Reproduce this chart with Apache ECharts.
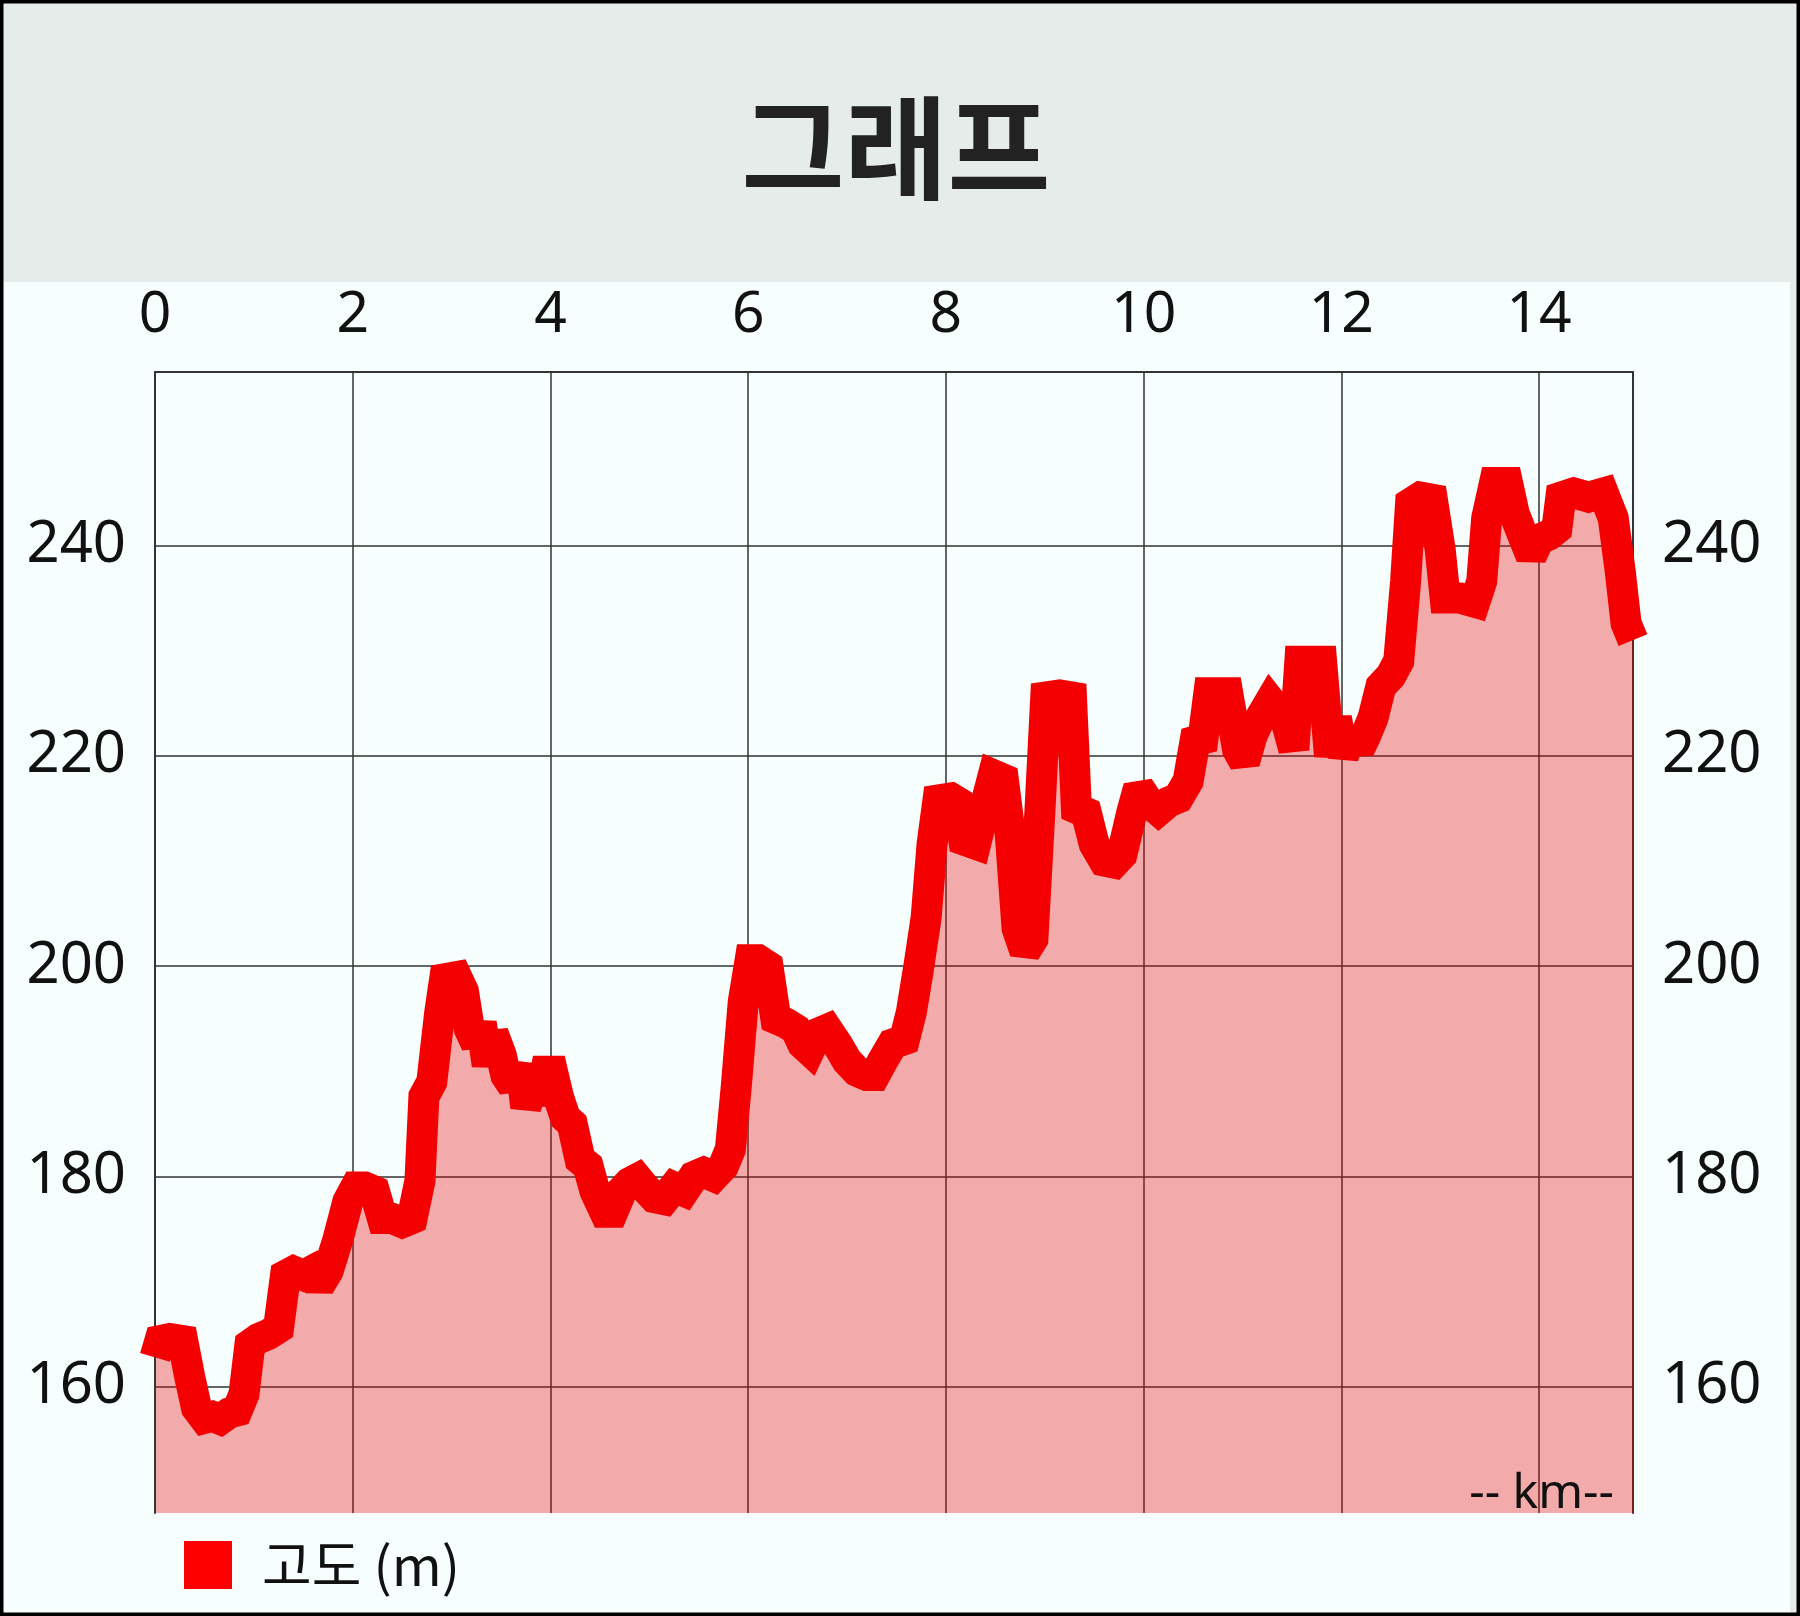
<!DOCTYPE html>
<html>
<head>
<meta charset="utf-8">
<script src="https://cdn.jsdelivr.net/npm/echarts@6/dist/echarts.min.js"></script>
<style>
html,body{margin:0;padding:0;background:#f6fefe;}
#chart{width:1800px;height:1616px;}
</style>
</head>
<body>
<div id="chart"></div>
<script>
// distance along route (km)
const distKm = [
  0.00,0.05,0.15,0.28,0.35,0.42,0.50,0.58,0.66,0.75,0.83,0.90,0.96,1.05,1.15,1.25,
  1.32,1.40,1.50,1.58,1.66,1.75,1.85,1.95,2.03,2.12,2.22,2.30,2.40,2.50,2.60,2.68,
  2.72,2.80,2.88,2.93,3.05,3.12,3.18,3.25,3.30,3.36,3.42,3.50,3.55,3.62,3.70,3.75,
  3.82,3.88,3.95,4.02,4.08,4.15,4.22,4.30,4.38,4.45,4.55,4.63,4.72,4.80,4.88,4.95,
  5.05,5.15,5.25,5.35,5.45,5.55,5.65,5.75,5.82,5.88,5.95,6.02,6.10,6.20,6.28,6.38,
  6.48,6.55,6.62,6.70,6.80,6.90,7.00,7.10,7.20,7.28,7.36,7.46,7.58,7.65,7.72,7.80,
  7.86,7.92,8.05,8.12,8.18,8.30,8.38,8.48,8.58,8.65,8.72,8.80,8.88,8.95,9.01,9.15,
  9.27,9.32,9.42,9.50,9.60,9.70,9.78,9.88,9.95,10.05,10.15,10.25,10.35,10.45,10.52,10.60,
  10.66,10.85,10.95,11.02,11.10,11.18,11.28,11.38,11.45,11.52,11.58,11.80,11.88,11.95,12.02,12.10,
  12.18,12.25,12.32,12.40,12.50,12.58,12.65,12.70,12.80,12.92,13.00,13.05,13.20,13.35,13.42,13.47,
  13.55,13.68,13.75,13.85,13.92,14.00,14.10,14.18,14.22,14.35,14.50,14.65,14.75,14.82,14.88,14.95
];
// elevation (m)
const elevation = [
  162.8,164.4,164.6,164.4,161.0,158.0,157.0,157.2,156.9,157.5,157.7,159.3,164.0,164.6,165.0,165.6,
  170.6,171.0,170.6,171.0,169.6,171.0,174.0,177.6,179.0,179.0,178.6,176.0,176.0,175.6,176.0,179.6,
  187.6,189.0,195.6,198.8,199.0,197.6,194.0,192.6,194.6,190.6,193.6,191.6,189.6,188.6,190.6,186.6,
  188.6,187.0,190.0,190.0,187.6,185.6,185.0,181.6,181.0,178.6,176.6,176.6,178.6,179.4,179.8,179.0,
  178.0,177.8,179.0,178.6,180.0,180.4,180.0,181.0,182.6,188.6,196.6,200.6,200.6,200.0,195.0,194.6,
  194.0,192.6,192.0,193.6,194.0,192.6,191.0,190.0,189.6,189.6,191.0,192.6,193.0,195.6,199.6,204.6,
  211.6,215.8,216.0,215.6,212.0,211.6,214.6,218.2,217.8,212.6,203.6,201.4,202.6,214.6,225.6,225.8,
  225.6,215.0,214.6,211.6,210.0,209.8,210.6,214.6,217.0,215.6,214.8,215.6,216.0,217.6,221.4,221.6,
  226.0,226.0,220.6,219.4,222.0,223.6,225.2,224.0,223.0,220.6,229.0,229.0,220.0,223.6,220.0,222.0,
  220.6,222.0,223.6,226.6,227.6,229.0,236.6,244.0,244.6,244.4,239.6,235.0,235.0,234.6,236.6,242.6,
  246.0,246.0,243.0,240.6,239.0,240.6,241.0,241.6,244.6,245.0,244.6,245.0,242.6,237.6,232.6,231.0
];
const xTicks = [0, 2, 4, 6, 8, 10, 12, 14];
const yTicks = [160, 180, 200, 220, 240];
const titleText = '그래프';
const seriesName = '고도 (m)';
const unitText = '-- km--';

const points = distKm.map((d, i) => [d, elevation[i]]);

const chart = echarts.init(document.getElementById('chart'), null, {renderer: 'canvas'});
const FONT = '"Noto Sans", "Noto Sans CJK KR", sans-serif';
const gridColor = '#333';

const yAxisBase = {
  type: 'value',
  min: 148,
  max: 256.5,
  axisLine: {show: true, lineStyle: {color: gridColor, width: 2}},
  axisTick: {show: false, customValues: yTicks},
  axisLabel: {customValues: yTicks, fontSize: 58, color: '#111', fontFamily: FONT, margin: 29}
};

chart.setOption({
  backgroundColor: '#f6fefe',
  animation: false,
  graphic: [
    {type: 'rect', z: -10, shape: {x: 0, y: 0, width: 1800, height: 282}, style: {fill: '#e5ecea'}},
    {type: 'rect', z: -10, shape: {x: 1790, y: 282, width: 8, height: 1334}, style: {fill: '#e5ecea'}},
    {type: 'text', z: 10, style: {text: titleText, x: 896, y: 148, align: 'center', verticalAlign: 'middle',
      font: 'bold 112px "Noto Sans CJK KR", sans-serif', fill: '#222'}},
    {type: 'text', z: 10, style: {text: unitText, x: 1614, y: 1494, align: 'right', verticalAlign: 'middle',
      font: '48px "Noto Sans", sans-serif', fill: '#111'}},
    {type: 'rect', z: 100, shape: {x: 0, y: 0, width: 1800, height: 1616},
      style: {fill: 'none', stroke: '#000', lineWidth: 7}}
  ],
  legend: {
    left: 184,
    top: 1538,
    icon: 'rect',
    itemWidth: 48,
    itemHeight: 48,
    padding: 0,
    textStyle: {fontSize: 54, color: '#111', fontFamily: '"Noto Sans CJK KR", sans-serif', padding: [0, 0, 0, 25]},
    data: [seriesName]
  },
  grid: {left: 155, top: 372, right: 167, bottom: 103, containLabel: false},
  xAxis: {
    type: 'value',
    position: 'top',
    min: 0,
    max: 14.95,
    interval: 2,
    axisLine: {show: true, lineStyle: {color: gridColor, width: 2}},
    axisTick: {show: false},
    axisLabel: {fontSize: 57, color: '#111', fontFamily: FONT, margin: 28,
      formatter: v => (xTicks.indexOf(v) >= 0 ? String(v) : '')},
    splitLine: {show: true, lineStyle: {color: gridColor, width: 1.5}}
  },
  yAxis: [
    Object.assign({}, yAxisBase, {position: 'left',
      splitLine: {show: true, lineStyle: {color: gridColor, width: 1.5}}}),
    Object.assign({}, yAxisBase, {position: 'right', splitLine: {show: false}})
  ],
  series: [{
    name: seriesName,
    type: 'line',
    yAxisIndex: 0,
    data: points,
    showSymbol: false,
    symbol: 'none',
    smooth: false,
    color: '#f00',
    itemStyle: {color: '#f00'},
    lineStyle: {color: '#f50000', width: 31, cap: 'butt', join: 'miter', miterLimit: 2},
    areaStyle: {color: 'rgba(238,0,0,0.33)', opacity: 1},
    z: 3
  }]
});
</script>
</body>
</html>
